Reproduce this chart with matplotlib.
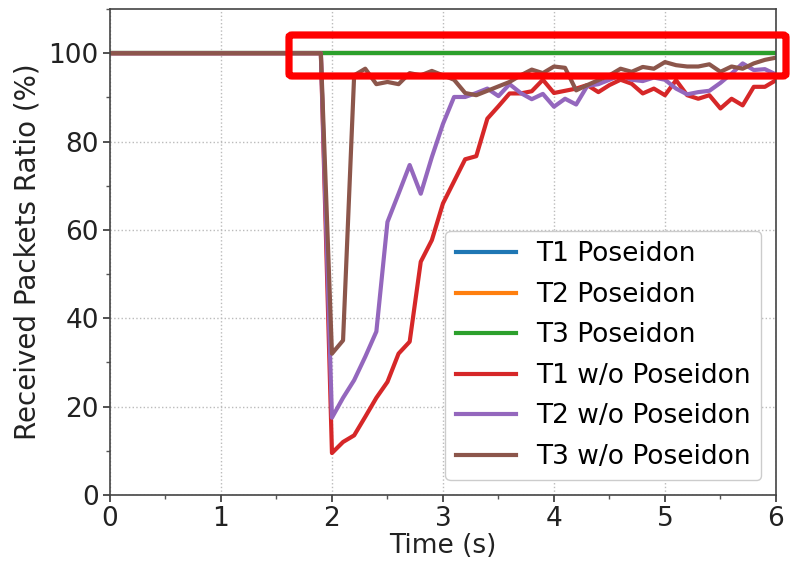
import numpy as np
import matplotlib
matplotlib.use("Agg")
import matplotlib.pyplot as plt
from matplotlib.patches import FancyBboxPatch
from matplotlib.ticker import MultipleLocator

time = np.round(np.arange(0, 6.01, 0.1), 1)

pre = [100.0] * 20  # t = 0.0 .. 1.9

t1_poseidon = [100.0] * 61
t2_poseidon = [100.0] * 61
t3_poseidon = [100.0] * 61

t1_wo = pre + [9.5, 12, 13.5, 17.7, 22, 25.6, 32, 34.7, 52.8, 57.7,
               66, 71, 76, 76.7, 85.2, 88, 90.9, 90.9, 91.4, 94,
               91, 91.5, 92, 92.8, 91.2, 92.8, 94, 93.1, 90.9, 92,
               90.5, 93.9, 90.5, 89.7, 90.5, 87.5, 89.7, 88.2, 92.4, 92.4,
               93.9]
t2_wo = pre + [17.5, 22, 26, 31.3, 37, 61.8, 68.2, 74.7, 68.2, 76.5,
               84, 90.1, 90.1, 91, 92, 90.3, 93, 91, 89.6, 90.8,
               87.9, 89.7, 88.4, 92.6, 93, 94, 95, 94, 93.7, 94.5,
               94, 92, 90.7, 91.2, 91.5, 93.3, 95.4, 97.7, 96.2, 96.4,
               95.2]
t3_wo = pre + [32, 35, 95, 96.5, 93, 93.5, 93, 95.5, 95, 96,
               95, 94, 91, 90.5, 91.5, 92.5, 93.5, 95, 96.3, 95.5,
               97, 96.7, 91.6, 92.8, 93.9, 95, 96.5, 95.8, 96.9, 96.5,
               98, 97.3, 97, 97, 97.5, 95.8, 97, 96.5, 97.7, 98.5,
               99]

labels = ["T1 Poseidon", "T2 Poseidon", "T3 Poseidon",
          "T1 w/o Poseidon", "T2 w/o Poseidon", "T3 w/o Poseidon"]
series = [t1_poseidon, t2_poseidon, t3_poseidon, t1_wo, t2_wo, t3_wo]
colors = ["#1f77b4", "#ff7f0e", "#2ca02c", "#d62728", "#9467bd", "#8c564b"]

fig = plt.figure(figsize=(7.91, 5.67), dpi=100)
ax = fig.add_axes([0.139, 0.127, 0.842, 0.857])

for y, lab, c in zip(series, labels, colors):
    ax.plot(time, y, color=c, lw=3, label=lab)

ax.set_xlim(0, 6)
ax.set_ylim(0, 110)
ax.xaxis.set_major_locator(MultipleLocator(1))
ax.xaxis.set_minor_locator(MultipleLocator(0.5))
ax.yaxis.set_major_locator(MultipleLocator(20))
ax.yaxis.set_minor_locator(MultipleLocator(10))
ax.grid(True, which="major", linestyle=":", color="#bbbbbb", lw=1)
ax.tick_params(axis="both", which="major", labelsize=19, length=5, width=1.2,
               colors="#333333", labelcolor="#222222", pad=3)
ax.tick_params(axis="both", which="minor", length=3, width=1, colors="#555555")
for s in ax.spines.values():
    s.set_color("#444444")
    s.set_linewidth(1.2)

ax.set_xlabel("Time (s)", fontsize=19, color="#222222", labelpad=1)
ax.set_ylabel("Received Packets Ratio (%)", fontsize=20, color="#222222", labelpad=5)

leg = ax.legend(loc="lower right", fontsize=19, handlelength=2.3, handletextpad=0.75,
                labelspacing=0.55, borderpad=0.4, borderaxespad=0.55,
                framealpha=1.0, edgecolor="#cccccc", fancybox=True)

# red highlight box overlaid on the figure
rect = FancyBboxPatch((289 / 791, 1 - 76 / 567), (786 - 289) / 791, (76 - 35) / 567,
                      boxstyle="round,pad=0,rounding_size=0.004",
                      transform=fig.transFigure, fill=False, edgecolor="#ff0000",
                      lw=5.2, clip_on=False, zorder=10)
fig.patches.append(rect)

fig.savefig("out.png", dpi=100)
